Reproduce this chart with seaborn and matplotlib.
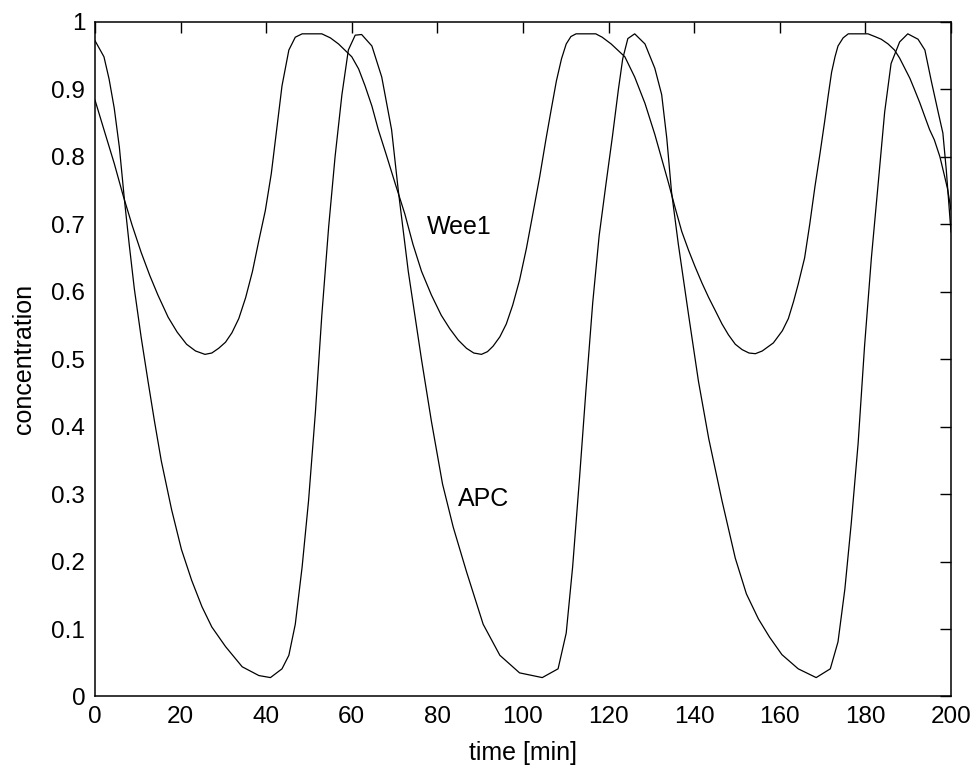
import matplotlib
matplotlib.use("Agg")
import matplotlib.pyplot as plt
import seaborn as sns
import pandas as pd

# ---- data ----
apc_t = [0, 2.1, 3.3, 4.5, 5.7, 6.9, 8, 9.2, 10.8, 12.4, 13.9, 15.5, 17.9, 20.2, 22.6, 25,
         27.3, 30.5, 34.4, 38.3, 41, 43.7, 45.3, 46.8, 48.4, 49.9, 51.5, 53, 54.6, 56.1, 57.7,
         59.2, 60.8, 62.3, 64.7, 67, 69.3, 70.9, 73.2, 76.3, 78.6, 81.2, 83.7, 86.8, 90.7, 94.6,
         99.2, 104.5, 108.2, 110.1, 111.6, 113.2, 114.7, 116.3, 117.8, 119.4, 120.9, 122.3, 123.3,
         124.5, 126.1, 128.5, 130.8, 132.4, 133.6, 134.7, 136.3, 138.7, 141, 143.4, 146.5, 149.6,
         152.2, 155, 157.6, 160.5, 164.3, 168.5, 171.8, 173.6, 175.2, 176.7, 178.3, 179.8, 181.4,
         183, 184.5, 186, 188, 189.9, 192.3, 193.9, 195.4, 197, 198.1, 198.9, 200]
apc_v = [0.972, 0.948, 0.915, 0.872, 0.814, 0.735, 0.67, 0.604, 0.532, 0.467, 0.408, 0.349, 0.277,
         0.218, 0.172, 0.133, 0.103, 0.074, 0.044, 0.031, 0.028, 0.041, 0.061, 0.107, 0.192, 0.29,
         0.421, 0.565, 0.696, 0.8, 0.892, 0.958, 0.98, 0.981, 0.964, 0.918, 0.84, 0.748, 0.63,
         0.499, 0.408, 0.315, 0.251, 0.185, 0.107, 0.061, 0.035, 0.028, 0.041, 0.094, 0.192, 0.323,
         0.453, 0.584, 0.683, 0.76, 0.83, 0.9, 0.945, 0.975, 0.982, 0.967, 0.931, 0.892, 0.827,
         0.748, 0.67, 0.565, 0.467, 0.382, 0.29, 0.205, 0.152, 0.115, 0.088, 0.062, 0.041, 0.028,
         0.041, 0.081, 0.159, 0.257, 0.375, 0.519, 0.65, 0.761, 0.866, 0.938, 0.97, 0.982, 0.974,
         0.958, 0.912, 0.866, 0.835, 0.78, 0.688]

wee1_t = [0, 2.1, 4.5, 6.6, 8.7, 10.8, 12.8, 14.7, 17.1, 19.2, 21.4, 23.5, 25.7, 27.3, 28.9, 30.5,
          32, 33.6, 35.2, 36.8, 38.3, 39.8, 41.2, 42.2, 43.7, 45.3, 46.8, 48.4, 53, 55, 56.9, 60,
          61.6, 63.1, 64.7, 66.2, 68.2, 70.1, 72.4, 74.3, 76.3, 78.6, 80.9, 82.9, 84.9, 86.8, 88.5,
          90.3, 91.7, 93, 94.6, 96.1, 97.6, 99.2, 100.8, 102.3, 103.9, 105.4, 106.6, 107.8, 109,
          110.1, 111.2, 112.4, 117, 118.5, 120.6, 123.8, 126.1, 128.5, 130.8, 132.4, 134, 135.6,
          137.1, 138.7, 140.2, 141.8, 143.4, 145, 146.5, 148, 149.6, 151.2, 152.8, 154.3, 155.9,
          158.5, 160.6, 162, 163.2, 164.3, 165.8, 167, 168.2, 169.4, 170.5, 171.3, 172.1, 172.9,
          173.6, 174.8, 176, 180.6, 182.2, 183.7, 185.3, 186.8, 188, 189.2, 190.4, 191.5, 192.7,
          193.9, 195, 196.1, 197.4, 198.5, 199.2, 200]
wee1_v = [0.884, 0.84, 0.79, 0.742, 0.698, 0.658, 0.624, 0.595, 0.562, 0.54, 0.522, 0.512, 0.507,
          0.509, 0.516, 0.525, 0.539, 0.56, 0.591, 0.63, 0.676, 0.72, 0.775, 0.827, 0.905, 0.958,
          0.977, 0.982, 0.982, 0.976, 0.967, 0.948, 0.93, 0.905, 0.875, 0.84, 0.80, 0.761, 0.715,
          0.67, 0.63, 0.595, 0.565, 0.545, 0.528, 0.516, 0.509, 0.507, 0.511, 0.519, 0.533, 0.552,
          0.58, 0.617, 0.664, 0.715, 0.77, 0.827, 0.87, 0.912, 0.945, 0.967, 0.978, 0.982, 0.982,
          0.977, 0.967, 0.948, 0.918, 0.879, 0.833, 0.797, 0.761, 0.723, 0.689, 0.661, 0.637,
          0.613, 0.591, 0.571, 0.552, 0.536, 0.522, 0.514, 0.509, 0.508, 0.512, 0.524, 0.542,
          0.56, 0.585, 0.611, 0.65, 0.70, 0.755, 0.805, 0.853, 0.89, 0.925, 0.948, 0.964, 0.976,
          0.982, 0.982, 0.978, 0.974, 0.967, 0.958, 0.946, 0.931, 0.916, 0.899, 0.88, 0.859, 0.84,
          0.825, 0.80, 0.771, 0.752, 0.721]

x_ticks = [0, 20, 40, 60, 80, 100, 120, 140, 160, 180, 200]
y_ticks = [0, 0.1, 0.2, 0.3, 0.4, 0.5, 0.6, 0.7, 0.8, 0.9, 1]
y_tick_labels = ["0", "0.1", "0.2", "0.3", "0.4", "0.5", "0.6", "0.7", "0.8", "0.9", "1"]
labels = ["Wee1", "APC"]
label_pos = [(77.6, 0.696), (84.8, 0.293)]

# ---- plotting ----
sns.set_style("white")
plt.rcParams["font.family"] = ["Liberation Sans", "DejaVu Sans"]

fig = plt.figure(figsize=(9.79, 7.69), dpi=100)
ax = fig.add_axes([0.097, 0.0943, 0.8744, 0.8775])

df_apc = pd.DataFrame({"t": apc_t, "v": apc_v})
df_wee = pd.DataFrame({"t": wee1_t, "v": wee1_v})
sns.lineplot(data=df_apc, x="t", y="v", ax=ax, color="black", linewidth=0.9, sort=False)
sns.lineplot(data=df_wee, x="t", y="v", ax=ax, color="black", linewidth=0.9, sort=False)

for txt, (tx, ty) in zip(labels, label_pos):
    ax.text(tx, ty, txt, fontsize=18, ha="left", va="center", color="black")

ax.set_xlim(0, 200)
ax.set_ylim(0, 1)
ax.set_xticks(x_ticks)
ax.set_xticklabels([str(v) for v in x_ticks])
ax.set_yticks(y_ticks)
ax.set_yticklabels(y_tick_labels)
ax.tick_params(axis="both", which="both", direction="in", length=8, width=1,
               top=True, right=True, labelsize=17.5, colors="black", pad=7)
for s in ax.spines.values():
    s.set_visible(True)
    s.set_color("black")
    s.set_linewidth(1.1)

ax.set_xlabel("time [min]", fontsize=18, labelpad=9, color="black")
ax.set_ylabel("concentration", fontsize=18, labelpad=11, color="black")

fig.savefig("out.png", dpi=100)
